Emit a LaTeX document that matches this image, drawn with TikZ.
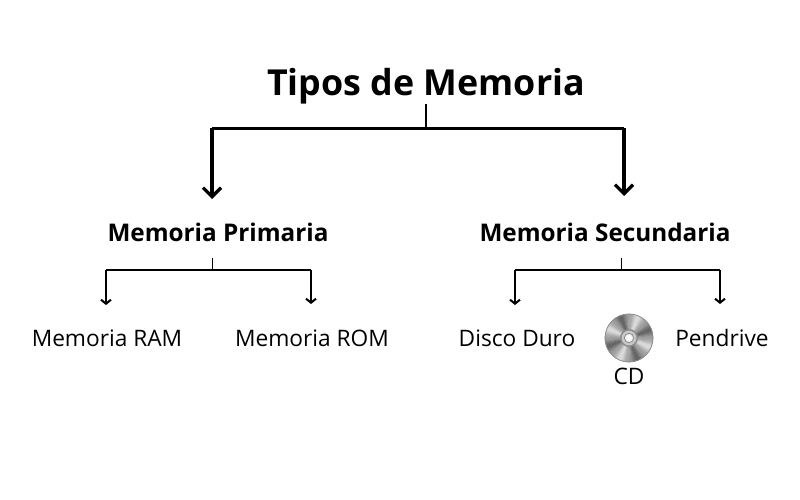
\documentclass[tikz,border=0pt]{standalone}
\usepackage{fontspec}
\setmainfont{Open Sans}
\usetikzlibrary{arrows.meta}
\usetikzlibrary{calc}
\tikzstyle{titlebox} = [inner sep=0pt,font=\fontsize{35.8}{36}\bfseries\selectfont,minimum height=36pt]
\tikzstyle{headbox} = [inner sep=0pt,font=\fontsize{24.3}{24}\bfseries\selectfont]
\tikzstyle{leafbox} = [inner sep=0pt,font=\fontsize{22.7}{23}\selectfont]
\tikzstyle{bigline} = [line width=3pt]
\tikzstyle{bigconnector} = [-{Straight Barb[length=9pt,width=18pt,line width=3.2pt]},line width=3.6pt]
\tikzstyle{smallline} = [line width=1.6pt]
\tikzstyle{smallconnector} = [-{Straight Barb[length=4pt,width=10pt,line width=2pt]},line width=1.8pt]

\begin{document}
\begin{tikzpicture}[x=1pt,y=1pt]
	\useasboundingbox (0,0) rectangle (800,-500);

	\node[titlebox] (title) at (426,-86) {Tipos de Memoria};

	\node[headbox] (primaria) at (218,-232) {Memoria Primaria};
	\node[headbox] (secundaria) at (605,-232) {Memoria Secundaria};

	\node[leafbox] (ram) at ($(primaria)+(-111,-106)$) {Memoria RAM};
	\node[leafbox] (rom) at ($(primaria)+(94,-106)$) {Memoria ROM};
	\node[leafbox] (disco) at ($(secundaria)+(-88,-106)$) {Disco Duro};
	\node[leafbox] (pendrive) at ($(secundaria)+(117,-106)$) {Pendrive};
	\node[leafbox] (cd) at ($(secundaria)+(24,-144)$) {CD};

	% the disc
	\coordinate (disc) at (629,-338);
	\foreach \a in {0,4,...,356} {
		\pgfmathsetmacro{\shade}{int(38+20*cos(4*(\a-20))+4*cos(12*(\a-20)))}
		\fill[black!\shade!white,draw=black!\shade!white,line width=0.2pt] (disc) -- ++(\a:24) arc (\a:\a+4.4:24) -- cycle;
	}
	\draw[black!45,line width=0.8pt] (disc) circle (24);
	\fill[black!45] (disc) circle (9);
	\fill[black!22] (disc) circle (7.4);
	\fill[black!50] (disc) circle (5);
	\fill[black!8] (disc) circle (4.2);
	\fill[white] (disc) circle (2.8);

	% free ends of the connectors
	\coordinate (busmain) at (426,-128.5);
	\coordinate (busprim) at (212,-128.5);
	\coordinate (bussec) at (624,-128.5);
	\coordinate (tipprim) at (212,-199);
	\coordinate (tipsec) at (624,-196);
	\coordinate (stemprim) at (212,-258);
	\coordinate (busA) at (212,-270);
	\coordinate (busram) at (106,-270);
	\coordinate (busrom) at (311,-270);
	\coordinate (tipram) at (106,-305);
	\coordinate (tiprom) at (311,-304);
	\coordinate (stemsec) at (621,-258);
	\coordinate (busB) at (621,-270);
	\coordinate (busdisco) at (515,-270);
	\coordinate (buspen) at (720,-270);
	\coordinate (tipdisco) at (515,-305);
	\coordinate (tippen) at (720,-304);

	% now link the nodes
	\draw [line width=2pt] (title.south) -- (busmain);
	\draw [bigline] (busprim) -- (bussec);
	\draw [bigconnector] (busprim) -- (tipprim);
	\draw [bigconnector] (bussec) -- (tipsec);

	\draw [line width=1pt] (stemprim) -- (busA);
	\draw [smallline] (busram) -- (busrom);
	\draw [smallconnector] (busram) -- (tipram);
	\draw [smallconnector] (busrom) -- (tiprom);

	\draw [line width=1pt] (stemsec) -- (busB);
	\draw [smallline] (busdisco) -- (buspen);
	\draw [smallconnector] (busdisco) -- (tipdisco);
	\draw [smallconnector] (buspen) -- (tippen);
\end{tikzpicture}
\end{document}
